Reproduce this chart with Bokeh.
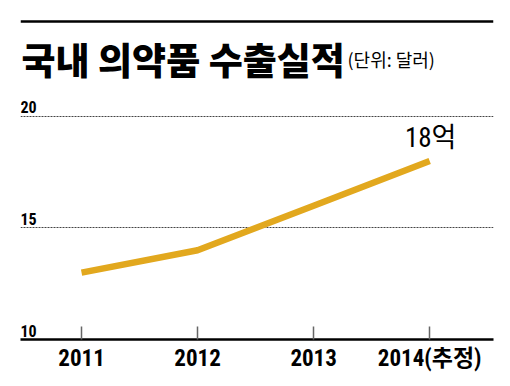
from bokeh.plotting import figure
from bokeh.models import Range1d, FixedTicker, Span, Label
from bokeh.core.properties import value
from bokeh.embed import file_html
from bokeh.resources import INLINE

# ---- data ----
years = [2011, 2012, 2013, 2014]
year_labels = ["2011", "2012", "2013", "2014(추정)"]
exports = [13, 14, 16, 18]          # 억 달러
y_ticks = [10, 15, 20]
title_text = "국내 의약품 수출실적"
subtitle_text = "(단위: 달러)"
unit_text = "억"

GOLD = "#E2A81E"
NARROW = "'Roboto Condensed', 'Archivo Narrow', 'Barlow Condensed', 'Noto Sans CJK KR', sans-serif"
CJK_BLACK = "'Noto Sans CJK KR Black', 'Noto Sans CJK KR', sans-serif"
CJK = "'Noto Sans CJK KR', sans-serif"

x_start, x_end = 2010.474, 2014.55
y_start, y_end = 10, 24.84

p = figure(frame_width=473, frame_height=331, output_backend="svg",
           toolbar_location=None, x_range=Range1d(x_start, x_end),
           y_range=Range1d(y_start, y_end),
           min_border_left=20, min_border_right=10, min_border_top=8,
           min_border_bottom=10)
p.outline_line_color = None
p.background_fill_color = "white"
p.border_fill_color = "white"
p.yaxis.visible = False
p.xgrid.visible = False

# horizontal dashed grid lines
p.ygrid.ticker = FixedTicker(ticks=[t for t in y_ticks if t > y_start])
p.ygrid.grid_line_color = "#444444"
p.ygrid.grid_line_dash = "2 1"
p.ygrid.grid_line_width = 1

# x axis
ax = p.xaxis[0]
ax.ticker = FixedTicker(ticks=years)
ax.major_label_overrides = {y: l for y, l in zip(years, year_labels)}
ax.major_tick_in = 13
ax.major_tick_out = 0
ax.minor_tick_line_color = None
ax.major_tick_line_color = "#666666"
ax.major_tick_line_width = 1.5
ax.axis_line_color = "black"
ax.axis_line_width = 2.5
ax.major_label_standoff = 5
ax.major_label_text_font = NARROW
ax.major_label_text_font_size = "23px"
ax.major_label_text_font_style = "bold"
ax.major_label_text_color = "black"

# y tick labels sitting above the grid lines
p.text(x=[x_start] * len(y_ticks), y=y_ticks, text=[str(t) for t in y_ticks],
       text_font=value(NARROW), text_font_size="16px", text_font_style="bold",
       text_align="left", text_baseline="bottom", y_offset=-3, text_color="black")

# data line
p.line(years, exports, line_color=GOLD, line_width=6.5)

# end label
p.text(x=[years[-1]], y=[exports[-1]], text=[f"{exports[-1]}{unit_text}"],
       text_font=value(NARROW), text_font_size="27px", text_align="center",
       text_baseline="bottom", y_offset=-7, x_offset=1, text_color="black")

# top rule
p.add_layout(Span(location=24.26, dimension="width", line_color="black",
                  line_width=2.5))

# title + subtitle
p.add_layout(Label(x=x_start, y=23.8, text=title_text, x_offset=1,
                   text_font=CJK_BLACK, text_font_size="37px", text_font_style="normal",
                   text_baseline="top", text_align="left", text_color="black"))
p.add_layout(Label(x=x_start, y=23.8, text=subtitle_text, x_offset=327, y_offset=-14,
                   text_font=CJK, text_font_size="18px",
                   text_baseline="top", text_align="left", text_color="black"))

open("out.html", "w").write(file_html(p, INLINE))
